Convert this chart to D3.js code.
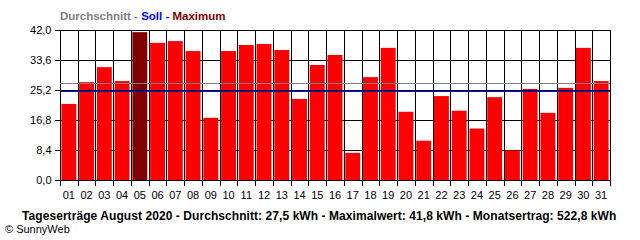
<!DOCTYPE html>
<html lang="de">
<head>
<meta charset="UTF-8">
<title>Tageserträge August 2020</title>
<script src="https://d3js.org/d3.v7.min.js"></script>
<style>
  body { margin: 0; background: #fff; }
  text { font-family: "Liberation Sans", Arial, sans-serif; }
</style>
</head>
<body>
<svg id="chart"></svg>
<script>
// daily yields (kWh), August 2020
const days = ["01","02","03","04","05","06","07","08","09","10","11","12","13","14","15","16",
              "17","18","19","20","21","22","23","24","25","26","27","28","29","30","31"];
const yields = [21.3, 27.4, 31.6, 27.7, 41.4, 38.4, 38.9, 36.1, 17.4, 36.1, 37.8, 38.1, 36.4, 22.7, 32.2, 35.0,
                7.6, 28.8, 37.0, 19.1, 11.0, 23.5, 19.4, 14.4, 23.2, 8.3, 25.5, 18.8, 25.8, 37.0, 27.7];
const yTicks = [0, 8.4, 16.8, 25.2, 33.6, 42.0];
const averageLine = 27.1;   // grey
const targetLine = 24.9;    // blue (Soll)
const legendParts = [
  { text: "Durchschnitt - ", color: "#808080" },
  { text: "Soll - ", color: "#0000ff" },
  { text: "Maximum", color: "#800000" }
];
const footer = "Tageserträge August 2020 - Durchschnitt: 27,5 kWh - Maximalwert: 41,8 kWh - Monatsertrag: 522,8 kWh";

const width = 640, height = 240;
const plotLeft = 60, plotRight = 610, plotTop = 30, plotBottom = 180;

const svg = d3.select("#chart").attr("width", width).attr("height", height);

const x = d3.scaleBand().domain(days).range([plotLeft, plotRight]).paddingInner(0.16).paddingOuter(0.08);
const y = d3.scaleLinear().domain([0, 42]).range([plotBottom, plotTop]);
const fmt = d => d.toFixed(1).replace(".", ",");
const step = x.step();
const edges = days.map(d => x(d) - step * 0.08).concat([plotRight]);
const row = v => Math.round(y(v)) + 0.5;

// horizontal grid (behind the bars)
const grid = svg.append("g").attr("stroke", "#000").attr("shape-rendering", "crispEdges");
grid.selectAll("line").data(yTicks).join("line")
  .attr("x1", plotLeft).attr("x2", plotRight)
  .attr("y1", row).attr("y2", row);

// bars
const maxVal = d3.max(yields);
svg.append("g").selectAll("rect")
  .data(yields)
  .join("rect")
  .attr("x", (d, i) => x(days[i]))
  .attr("y", d => y(d))
  .attr("width", x.bandwidth())
  .attr("height", d => plotBottom - y(d))
  .attr("fill", d => d === maxVal ? "#800000" : "#ff0000");

// vertical grid, border, axis line
const front = svg.append("g").attr("stroke", "#000").attr("shape-rendering", "crispEdges");
front.selectAll(".v").data(edges).join("line")
  .attr("x1", d => Math.round(d) + 0.5).attr("x2", d => Math.round(d) + 0.5)
  .attr("y1", plotTop).attr("y2", plotBottom + 6);
front.append("line").attr("x1", plotLeft).attr("x2", plotRight).attr("y1", row(0)).attr("y2", row(0));
front.append("line").attr("x1", plotLeft).attr("x2", plotRight).attr("y1", row(42)).attr("y2", row(42));
front.append("line").attr("x1", plotLeft).attr("x2", plotRight).attr("y1", row(25.2)).attr("y2", row(25.2));

// reference lines
svg.append("line")
  .attr("x1", plotLeft).attr("x2", plotRight)
  .attr("y1", row(averageLine)).attr("y2", row(averageLine))
  .attr("stroke", "#808080").attr("shape-rendering", "crispEdges");
svg.append("line")
  .attr("x1", plotLeft).attr("x2", plotRight)
  .attr("y1", row(targetLine)).attr("y2", row(targetLine))
  .attr("stroke", "#0000ff").attr("shape-rendering", "crispEdges");

// y axis
const yAxis = d3.axisLeft(y).tickValues(yTicks).tickFormat(fmt).tickSize(6).tickPadding(3);
svg.append("g").attr("transform", `translate(${plotLeft + 0.5},0)`).call(yAxis)
  .call(g => g.select(".domain").remove())
  .call(g => g.selectAll("line").attr("stroke", "#000").attr("shape-rendering", "crispEdges"))
  .call(g => g.selectAll("text").attr("font-size", 11).attr("font-family", "Liberation Sans, Arial, sans-serif").attr("fill", "#000"));

// x labels
svg.append("g").selectAll("text")
  .data(days)
  .join("text")
  .attr("x", d => x(d) + x.bandwidth() / 2)
  .attr("y", 199)
  .attr("text-anchor", "middle")
  .attr("font-size", 11)
  .text(d => d);

// legend
const leg = svg.append("text").attr("x", plotLeft).attr("y", 20).attr("font-size", 11.5).attr("font-weight", "bold");
legendParts.forEach(p => leg.append("tspan").attr("fill", p.color).text(p.text));

// footer
svg.append("text").attr("x", 22).attr("y", 220)
  .attr("font-size", 12).attr("font-weight", "bold").attr("letter-spacing", 0.07).text(footer);
svg.append("text").attr("x", 5).attr("y", 233)
  .attr("font-size", 11).text("© SunnyWeb");
</script>
</body>
</html>
